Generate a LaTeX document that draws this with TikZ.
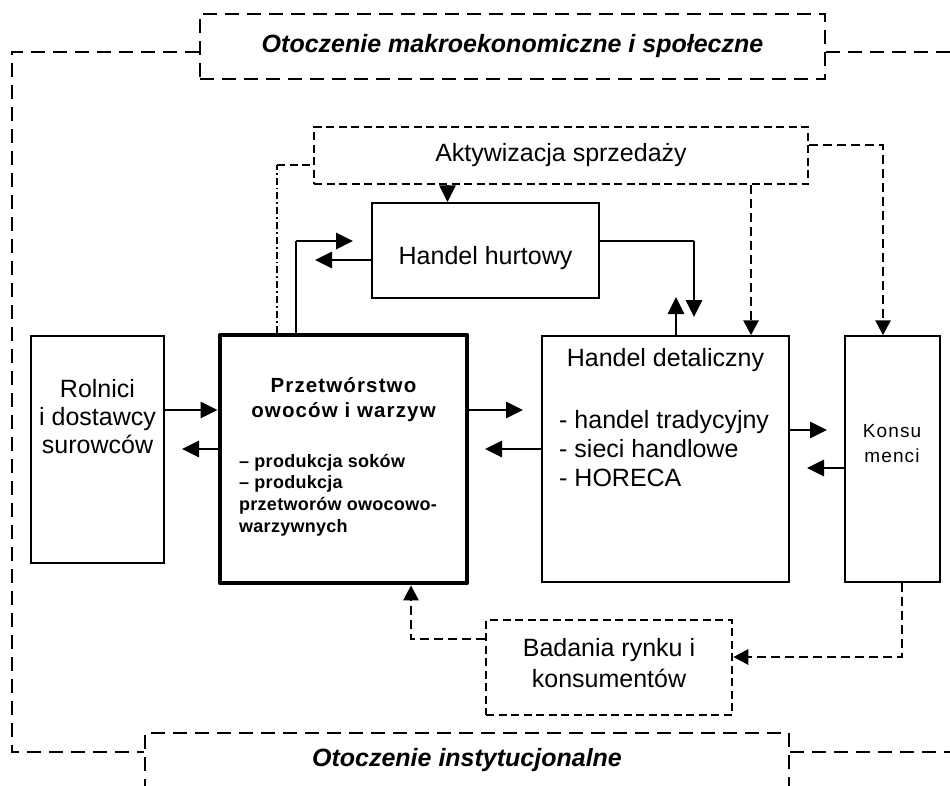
\documentclass[tikz,border=0pt]{standalone}
\usepackage{fontspec}
\setmainfont{Liberation Sans}
\newfontfamily\lsA[LetterSpace=5.5]{Liberation Sans}
\newfontfamily\lsB[LetterSpace=1.5]{Liberation Sans}
\newfontfamily\lsC[LetterSpace=6]{Liberation Sans}
\usetikzlibrary{arrows.meta}
\tikzset{
  base/.style={font=\fontsize{25}{28}\selectfont},
  bi/.style={font=\bfseries\itshape\fontsize{25}{28}\selectfont},
  plainbox/.style={draw, line width=1.5pt, inner sep=0pt},
  heavybox/.style={draw, line width=4.8pt, line join=round, inner sep=0pt},
  outerline/.style={line width=2.6pt, dash pattern=on 14pt off 8pt},
  shortdash/.style={line width=2.5pt, dash pattern=on 8pt off 4.5pt},
  dashdotline/.style={line width=2.3pt, dash pattern=on 7pt off 3pt on 1.8pt off 3pt},
  solidarrow/.style={line width=2.8pt, -{Triangle[length=17pt,width=16pt]}},
  dasharrow/.style={line width=2.8pt, dash pattern=on 9pt off 5pt, -{Triangle[length=15pt,width=15pt]}},
  thinline/.style={line width=1.6pt},
  txt/.style={inner sep=0pt, align=center},
}
\begin{document}
\begin{tikzpicture}[x=1pt,y=-1pt]
\useasboundingbox (0,0) rectangle (950,785);
\fill[white] (0,0) rectangle (950,785);
\clip (0,0) rectangle (950,785);

% boxes
\node[draw, outerline, inner sep=0pt, minimum width=625pt, minimum height=65pt, bi] (top) at (512.5,46.5) {Otoczenie makroekonomiczne i społeczne};
\node[draw, outerline, inner sep=0pt, minimum width=644pt, minimum height=74pt] (instbox) at (467,770) {};
\node[txt, bi] (instt) at (467,760) {Otoczenie instytucjonalne};

\node[draw, shortdash, inner sep=0pt, minimum width=494pt, minimum height=57pt, base] (akt) at (561,155.5) {Aktywizacja sprzedaży};
\node[plainbox, minimum width=227pt, minimum height=95pt] (hurt) at (485.5,250.5) {};
\node[txt, base] (hurtt) at (485.5,258) {Handel hurtowy};

\node[plainbox, minimum width=133pt, minimum height=227pt] (rol) at (97.5,449.5) {};
\node[txt, base] (rolt) at (97.5,417) {Rolnici\\i dostawcy\\surowców};

\node[heavybox, minimum width=247pt, minimum height=248pt] (prz) at (343.5,459) {};
\node[txt, font=\lsA\bfseries\fontsize{20.5}{25}\selectfont] (przt) at (343.5,400) {Przetwórstwo\\owoców i warzyw};
\node[txt, align=left, anchor=west, font=\lsB\bfseries\fontsize{18}{21.7}\selectfont] (przl) at (239,495) {– produkcja soków\\– produkcja\\przetworów owocowo-\\warzywnych};

\node[plainbox, minimum width=247pt, minimum height=246pt] (det) at (665.5,459) {};
\node[txt, base] (dett) at (665.5,360) {Handel detaliczny};
\node[txt, align=left, anchor=west, font=\fontsize{25}{29}\selectfont] (detl) at (559,449) {- handel tradycyjny\\- sieci handlowe\\- HORECA};

\node[plainbox, minimum width=95pt, minimum height=246pt] (kon) at (892.5,459) {};
\node[txt, font=\lsC\fontsize{19}{25}\selectfont] (kont) at (892,444) {Konsu\\menci};

\node[draw, shortdash, inner sep=0pt, minimum width=246pt, minimum height=95pt] (bad) at (609,667.5) {};
\node[txt, font=\fontsize{25}{31}\selectfont] (badt) at (609,663) {Badania rynku i\\konsumentów};

% outer dashed frame lines
\coordinate (tl) at (12,52);
\coordinate (bl) at (12,752);
\coordinate (tr) at (950,52);
\coordinate (br) at (950,752);
\draw[outerline] ([yshift=-5.5pt]top.west) -- (tl) -- (bl) -- (bl -| instbox.west);
\draw[outerline] ([yshift=-5.5pt]top.east) -- (tr);
\draw[outerline] (br -| instbox.east) -- (br);

% activation links
\coordinate (dd) at (277,165);
\draw[dashdotline] (prz.north -| dd) -- (dd);
\draw[shortdash] (dd) -- (dd -| akt.west);
\coordinate (ah) at (447.5,0);
\draw[solidarrow] (akt.south -| ah) -- (hurt.north -| ah);
\coordinate (ad) at (751,0);
\draw[dasharrow] (akt.south -| ad) -- (det.north -| ad);
\coordinate (ak) at (883,145);
\draw[dasharrow] (ak -| akt.east) -- (ak) -- (kon.north -| ak);

% wholesale links
\coordinate (pu) at (296,241);
\coordinate (pt) at (353,241);
\draw[thinline] (prz.north -| pu) -- (pu);
\draw[solidarrow] (pu) -- (pt);
\coordinate (hl) at (315,260);
\draw[solidarrow] (hl -| hurt.west) -- (hl);
\coordinate (hr) at (694,241);
\coordinate (hd) at (694,317);
\draw[thinline] (hr -| hurt.east) -- (hr);
\draw[solidarrow] (hr) -- (hd);
\coordinate (du) at (676,297);
\draw[solidarrow] (det.north -| du) -- (du);

% horizontal flows
\coordinate (ya) at (0,410);
\draw[solidarrow] (ya -| rol.east) -- (ya -| prz.west);
\coordinate (t1) at (182,449);
\draw[solidarrow] (t1 -| prz.west) -- (t1);
\coordinate (t2) at (523,410);
\draw[solidarrow] (t2 -| prz.east) -- (t2);
\coordinate (t3) at (485,449);
\draw[solidarrow] (t3 -| det.west) -- (t3);
\coordinate (t4) at (827,430);
\draw[solidarrow] (t4 -| det.east) -- (t4);
\coordinate (t5) at (807,468);
\draw[solidarrow] (t5 -| kon.west) -- (t5);

% research links
\coordinate (kb) at (902,657);
\draw[dasharrow] (kon.south -| kb) -- (kb) -- (kb -| bad.east);
\coordinate (bp) at (411,639);
\draw[dasharrow] (bp -| bad.west) -- (bp) -- (prz.south -| bp);
\end{tikzpicture}
\end{document}
